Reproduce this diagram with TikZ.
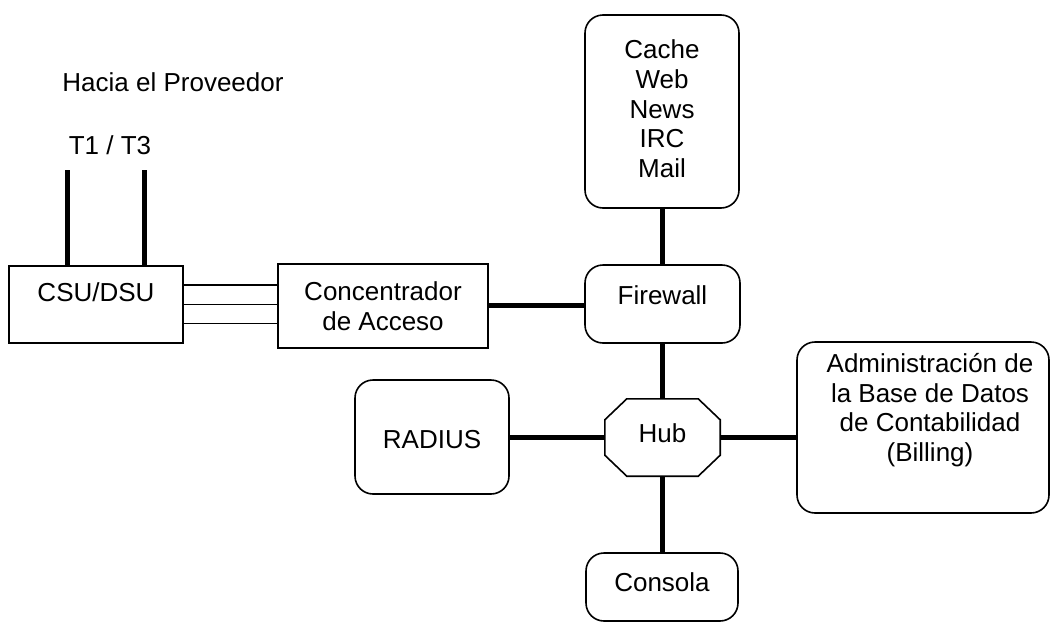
\documentclass[tikz,border=0pt]{standalone}
\usepackage{fontspec}
\setmainfont{Liberation Sans}
\usetikzlibrary{calc}
\begin{document}
\begin{tikzpicture}[x=1pt,y=-1pt,
  txt/.style={font=\fontsize{26}{29.7}\selectfont, align=center, inner sep=0pt},
  sq/.style={draw, line width=1.6pt, inner sep=0pt},
  rnd/.style={sq, rounded corners=18pt},
  link/.style={line width=5pt},
  thinlink/.style={line width=1.6pt}]
\useasboundingbox (0,0) rectangle (1051,624);
% boxes
\node[sq, minimum width=174pt, minimum height=77pt] (csu) at (96,304.5) {};
\node[sq, minimum width=210pt, minimum height=84pt] (conc) at (383,306) {};
\node[rnd, minimum width=155pt, minimum height=78pt] (fw) at (662.5,304) {};
\node[rnd, minimum width=154pt, minimum height=193pt] (cache) at (662,111.5) {};
\node[inner sep=0pt, minimum width=115pt, minimum height=77pt] (hub) at (662.5,437.5) {};
\node[rnd, minimum width=154pt, minimum height=114pt] (rad) at (432,437) {};
\node[rnd, minimum width=252pt, minimum height=171pt] (bill) at (923,427.5) {};
\node[rnd, minimum width=152pt, minimum height=68pt] (cons) at (662,587) {};
% hub octagon
\draw[line width=1.6pt] ($(hub.north west)+(22,0)$) -- ($(hub.north east)+(-22,0)$)
  -- ($(hub.north east)+(0,21)$) -- ($(hub.south east)+(0,-21)$)
  -- ($(hub.south east)+(-22,0)$) -- ($(hub.south west)+(22,0)$)
  -- ($(hub.south west)+(0,-21)$) -- ($(hub.north west)+(0,21)$) -- cycle;
% texts
\node[txt] (hacia) at (173,82) {Hacia el Proveedor};
\node[txt] (tt) at (110,145) {T1 / T3};
\node[txt] (csut) at (96,292) {CSU/DSU};
\node[txt] (conct) at (383,306) {Concentrador\\de Acceso};
\node[txt] (fwt) at (662.5,295) {Firewall};
\node[txt] (cachet) at (662,109) {Cache\\Web\\News\\IRC\\Mail};
\node[txt] (hubt) at (662.5,433) {Hub};
\node[txt] (radt) at (432,440) {RADIUS};
\node[txt] (const) at (662,582) {Consola};
\node[txt] (billt) at (930,410) {Administración de\\la Base de Datos\\de Contabilidad\\(Billing)};
% connectors
\coordinate (t1) at (67,170);
\coordinate (t3) at (144,170);
\draw[link] (t1) -- (t1 |- csu.north);
\draw[link] (t3) -- (t3 |- csu.north);
\draw[thinlink] ([yshift=19.5pt]csu.east) -- ([yshift=19.5pt]csu.east -| conc.west);
\draw[thinlink] (csu.east) -- (csu.east -| conc.west);
\draw[thinlink] ([yshift=-19pt]csu.east) -- ([yshift=-19pt]csu.east -| conc.west);
\draw[link] ([yshift=-1pt]fw.west -| conc.east) -- ([yshift=-1pt]fw.west);
\draw[link] (cache.south) -- (cache.south |- fw.north);
\draw[link] (fw.south) -- (fw.south |- hub.north);
\draw[link] (hub.south) -- (hub.south |- cons.north);
\draw[link] (rad.east) -- (rad.east -| hub.west);
\draw[link] (hub.east) -- (hub.east -| bill.west);
\end{tikzpicture}
\end{document}
